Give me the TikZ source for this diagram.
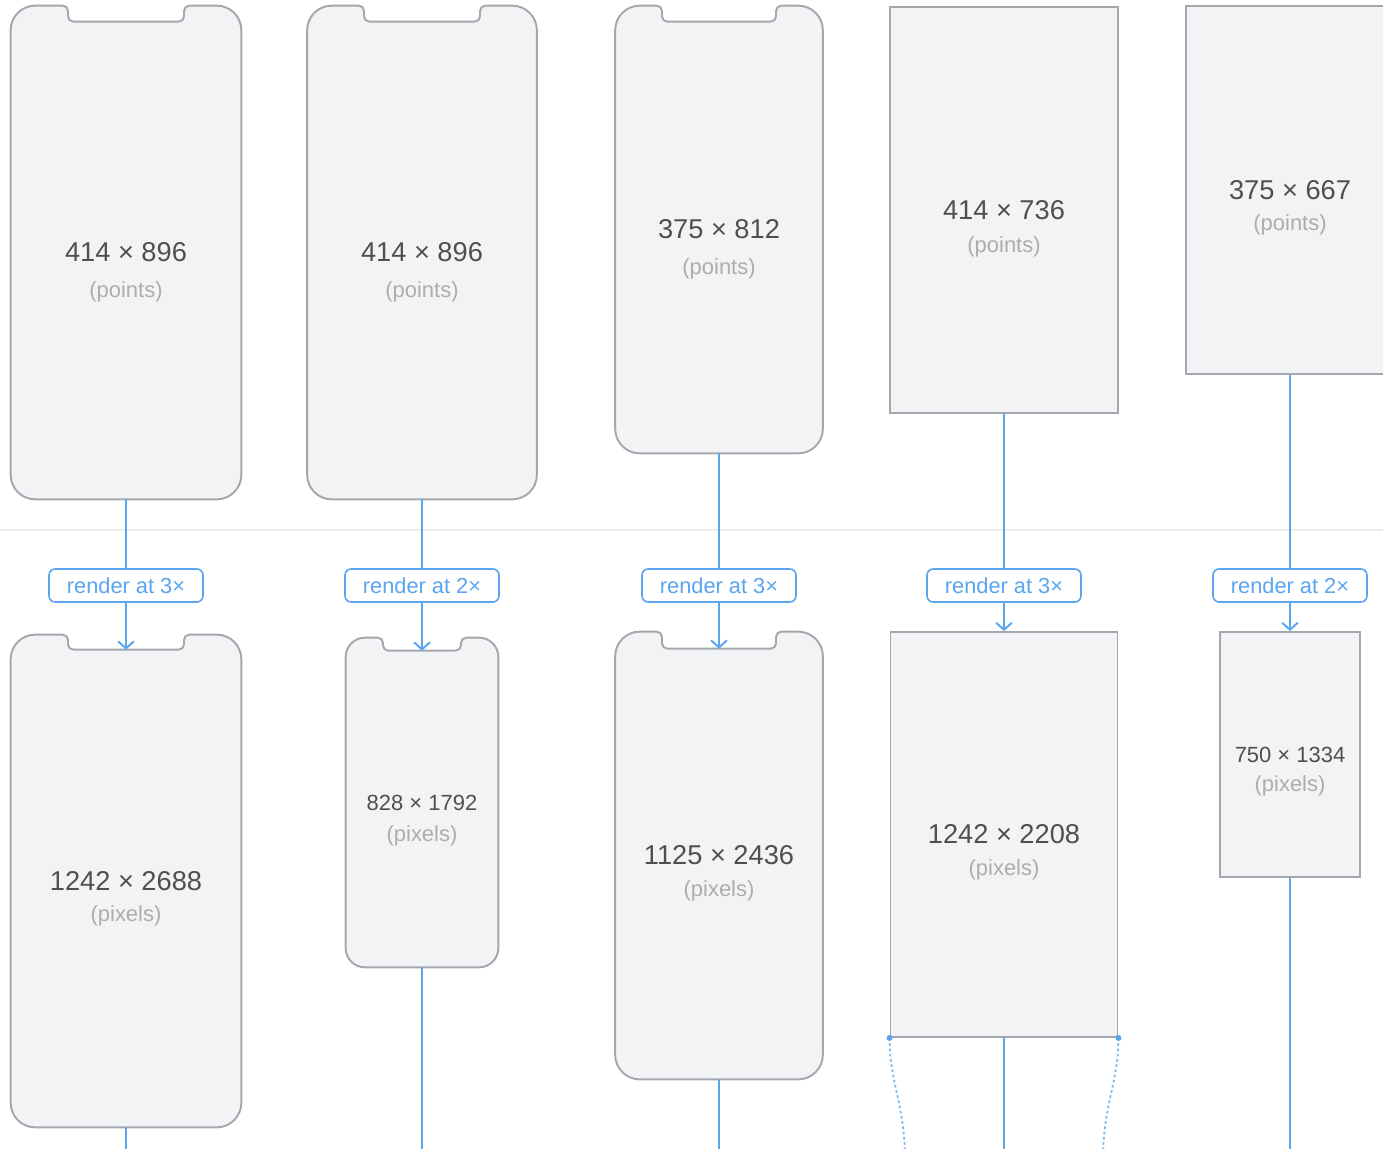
\documentclass[tikz,border=0pt]{standalone}
\usepackage{fontspec}
\setmainfont{Liberation Sans}
\usetikzlibrary{arrows.meta,backgrounds,calc}

\definecolor{shell}{HTML}{F2F3F5}
\definecolor{rim}{HTML}{A4A8AE}
\definecolor{ink}{HTML}{4F4F4F}
\definecolor{faint}{HTML}{ADADAD}
\definecolor{flow}{HTML}{5AA5EE}
\definecolor{divider}{HTML}{ECECEC}

% outline of a phone with a notch, drawn round the node #1
\newcommand{\notchphone}[4]{%
	\begin{scope}[on background layer]
		\draw[rim line] (#1.west) [rounded corners=#4] -- (#1.north west)
			[rounded corners=3pt] -- ($(#1.north)+(-#2,0)$) -- ($(#1.north)+(-#2,#3)$)
			-- ($(#1.north)+(#2,#3)$) -- ($(#1.north)+(#2,0)$)
			[rounded corners=#4] -- (#1.north east) -- (#1.south east) -- (#1.south west) -- cycle;
	\end{scope}
	\coordinate (#1-notch) at ($(#1.north)+(0,#3)$);}

\begin{document}
\begin{tikzpicture}[x=0.02cm,y=-0.02cm,
		screen/.style 2 args={minimum width=#1*0.02cm,minimum height=#2*0.02cm,inner sep=0pt,text=ink,font=\fontsize{15.5}{18}\selectfont},
		slab/.style 2 args={screen={#1}{#2},draw=rim,fill=shell,line width=1.1pt},
		minor/.style={font=\fontsize{12.5}{15}\selectfont},
		note/.style={text=faint,font=\fontsize{12.5}{15}\selectfont},
		rim line/.style={draw=rim,fill=shell,line width=1.1pt},
		render/.style={draw=flow,text=flow,fill=white,rounded corners=3.5pt,line width=0.9pt,minimum width=154*0.02cm,minimum height=33*0.02cm,inner sep=0pt,font=\fontsize{12.4}{15}\selectfont},
		flowline/.style={draw=flow,line width=1.1pt},
		flowarrow/.style={flowline,-{Straight Barb[length=4pt,width=9pt]}},
		spread/.style={draw=flow!80,line width=1pt,dash pattern=on 1.5pt off 1.5pt}]
	\useasboundingbox (0,0) rectangle (1383,1149);
	\begin{scope}[on background layer]
		\fill[white] (0,0) rectangle (1383,1149);
		\draw[divider,line width=0.6pt] (0,530) -- (1383,530);
	\end{scope}
	
	\node[screen={230}{493}] (a1) at (126,252.5) {414 × 896};
	\notchphone{a1}{58}{16}{14pt}
	\node[note] (a1s) at ($(a1.center)+(0,39)$) {(points)};
	
	\node[screen={229}{493}] (a2) at (422,252.5) {414 × 896};
	\notchphone{a2}{58}{16}{14pt}
	\node[note] (a2s) at ($(a2.center)+(0,39)$) {(points)};
	
	\node[screen={207}{447}] (a3) at (719,229.5) {375 × 812};
	\notchphone{a3}{57}{16}{14pt}
	\node[note] (a3s) at ($(a3.center)+(0,39)$) {(points)};
	
	\node[slab={228}{406}] (a4) at (1004,210) {414 × 736};
	\node[note] (a4s) at ($(a4.center)+(0,37)$) {(points)};
	
	\node[slab={208}{368}] (a5) at (1290,190) {375 × 667};
	\node[note] (a5s) at ($(a5.center)+(0,35)$) {(points)};
	
	\node[render] (r1) at (126,585.5) {render at 3×};
	\node[render] (r2) at (422,585.5) {render at 2×};
	\node[render] (r3) at (719,585.5) {render at 3×};
	\node[render] (r4) at (1004,585.5) {render at 3×};
	\node[render] (r5) at (1290,585.5) {render at 2×};
	
	\node[screen={230}{492}] (b1) at (126,881) {1242 × 2688};
	\notchphone{b1}{58}{15}{14pt}
	\node[note] (b1s) at ($(b1.center)+(0,35)$) {(pixels)};
	
	\node[screen={152}{329},minor] (b2) at (422,802.5) {828 × 1792};
	\notchphone{b2}{39}{13}{11pt}
	\node[note] (b2s) at ($(b2.center)+(0,33)$) {(pixels)};
	
	\node[screen={207}{447}] (b3) at (719,855.5) {1125 × 2436};
	\notchphone{b3}{57}{17}{14pt}
	\node[note] (b3s) at ($(b3.center)+(0,35)$) {(pixels)};
	
	\node[slab={227}{405}] (b4) at (1004,834.5) {1242 × 2208};
	\node[note] (b4s) at ($(b4.center)+(0,35)$) {(pixels)};
	
	\node[slab={140}{245},minor] (b5) at (1290,754.5) {750 × 1334};
	\node[note] (b5s) at ($(b5.center)+(0,31)$) {(pixels)};
	
	\coordinate (e1) at (126,1160);
	\coordinate (e2) at (422,1160);
	\coordinate (e3) at (719,1160);
	\coordinate (e4) at (1004,1160);
	\coordinate (e5) at (1290,1160);
	\coordinate (d1) at (905,1160);
	\coordinate (d2) at (1103,1160);
	
	\draw[flowline] (a1.south) -- (r1.north);
	\draw[flowline] (a2.south) -- (r2.north);
	\draw[flowline] (a3.south) -- (r3.north);
	\draw[flowline] (a4.south) -- (r4.north);
	\draw[flowline] (a5.south) -- (r5.north);
	
	\draw[flowarrow] (r1.south) -- (b1-notch);
	\draw[flowarrow] (r2.south) -- (b2-notch);
	\draw[flowarrow] (r3.south) -- (b3-notch);
	\draw[flowarrow] (r4.south) -- (b4.north);
	\draw[flowarrow] (r5.south) -- (b5.north);
	
	\draw[flowline] (b1.south) -- (e1);
	\draw[flowline] (b2.south) -- (e2);
	\draw[flowline] (b3.south) -- (e3);
	\draw[flowline] (b4.south) -- (e4);
	\draw[flowline] (b5.south) -- (e5);
	
	\draw[spread] (b4.south west) .. controls +(0,45) and +(0,-55) .. (d1);
	\draw[spread] (b4.south east) .. controls +(0,45) and +(0,-55) .. (d2);
	\fill[flow] (b4.south west) circle (1.7pt);
	\fill[flow] (b4.south east) circle (1.7pt);
\end{tikzpicture}
\end{document}
